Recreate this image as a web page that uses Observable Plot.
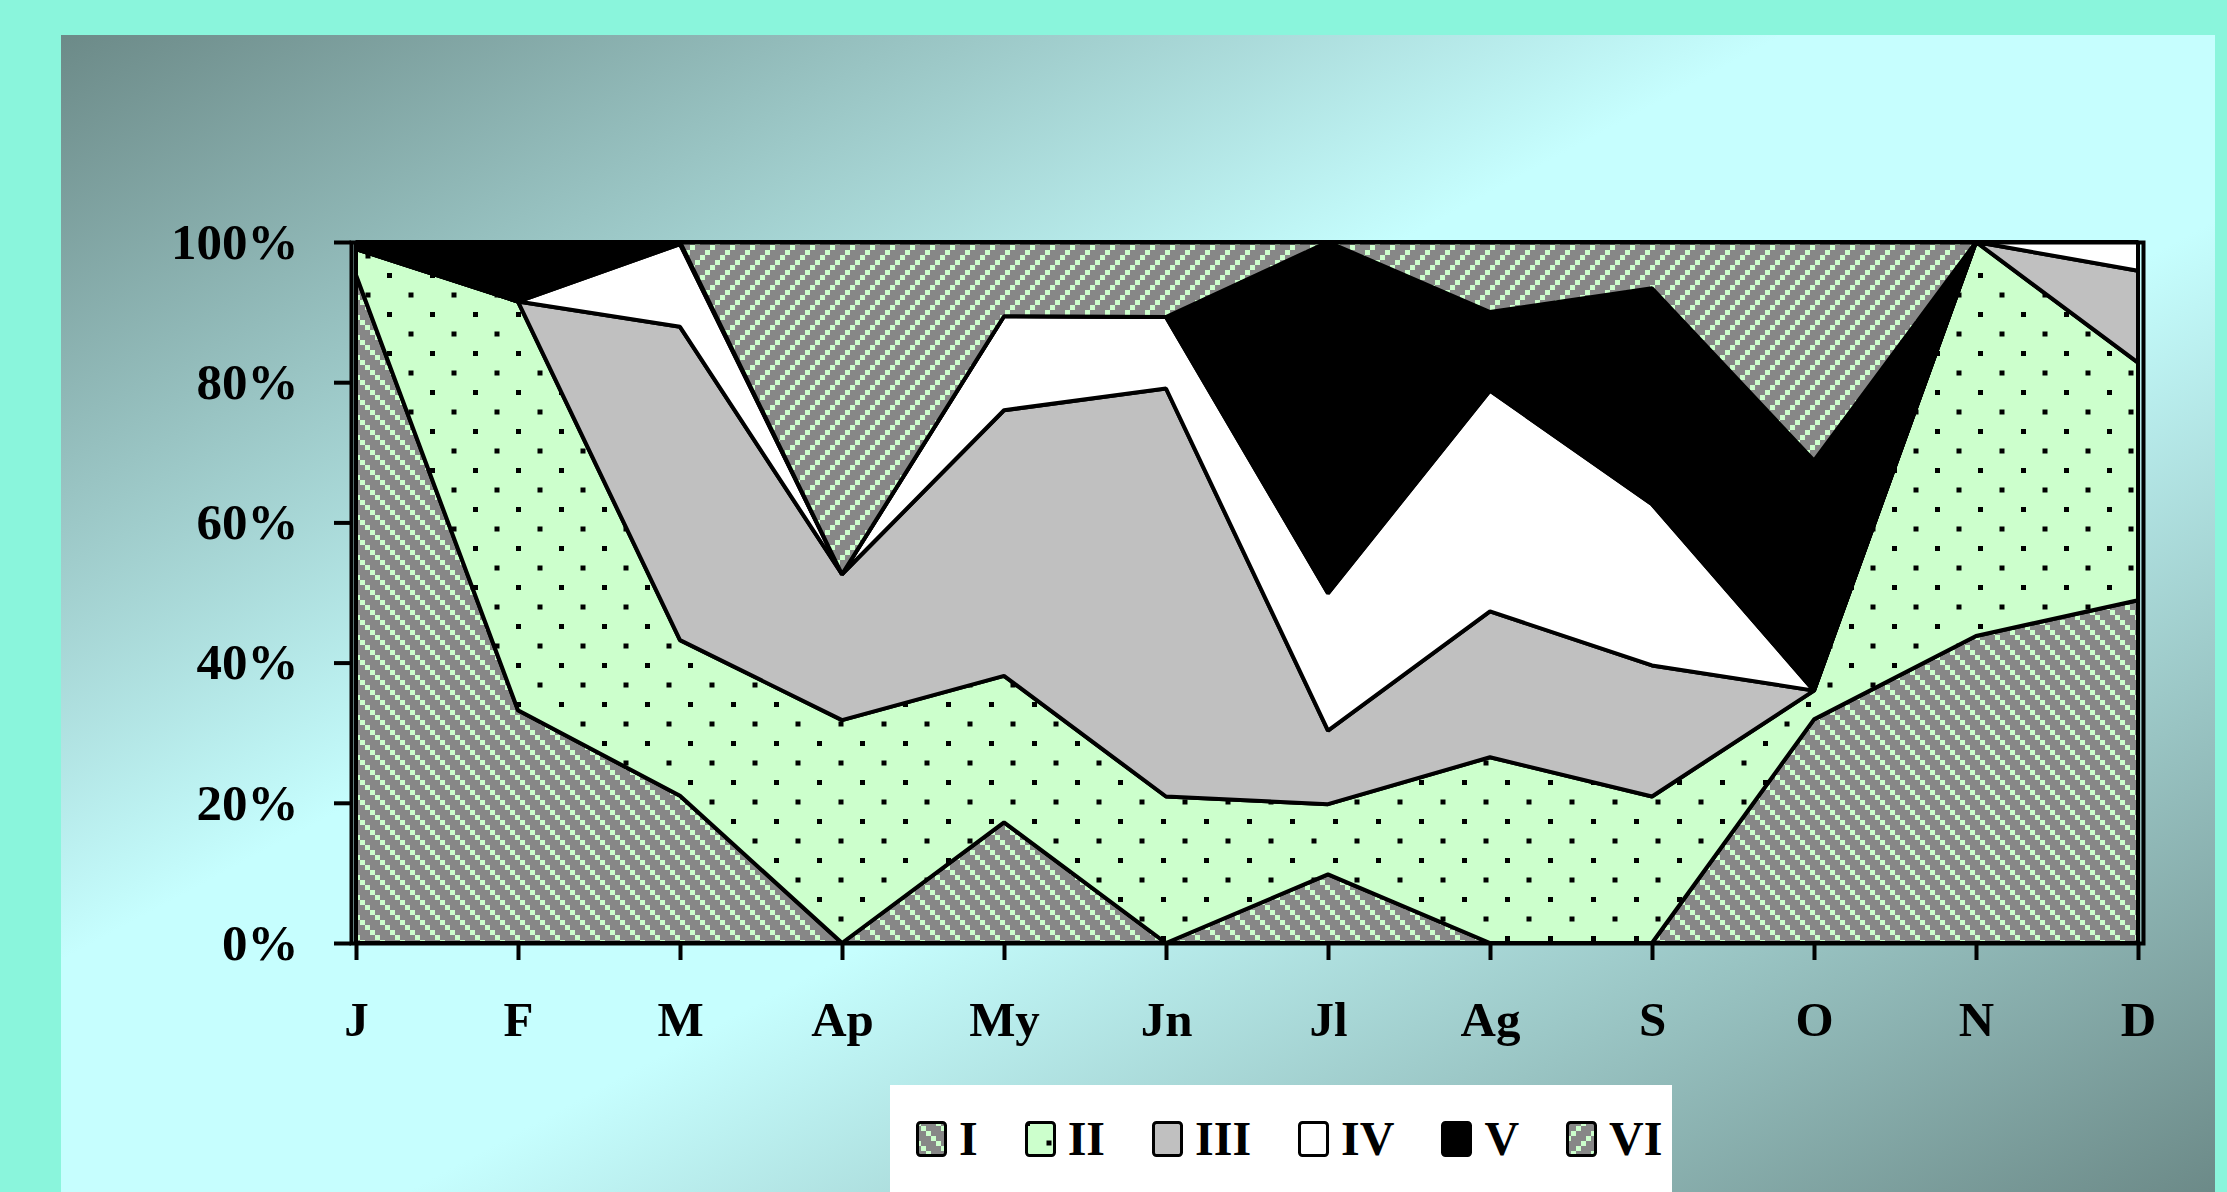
<!DOCTYPE html>
<html>
<head>
<meta charset="utf-8">
<script src="https://cdn.jsdelivr.net/npm/d3@7"></script>
<script src="https://cdn.jsdelivr.net/npm/@observablehq/plot@0.6"></script>
<style>
  html, body { margin: 0; padding: 0; }
  body {
    width: 2227px; height: 1192px; position: relative; overflow: hidden;
    background: #8af5dc;
    font-family: "Liberation Serif", "Times New Roman", serif;
  }
  #panel {
    position: absolute; left: 61px; top: 35px; width: 2154px; height: 1157px;
    background: linear-gradient(to bottom right, #6c8a88 0%, #c6fefe 40%, #c6fefe 58%, #6c8a88 100%);
  }
  #chart { position: absolute; left: 0; top: 0; }
  #legend {
    position: absolute; left: 890px; top: 1085px; width: 782px; height: 107px;
    background: #ffffff; box-sizing: border-box; padding-left: 26px;
    display: flex; align-items: center;
  }
  .item { display: flex; align-items: center; margin-right: 47px; font-weight: bold; font-size: 48px; color: #000; }
  .item svg { margin-right: 12px; display: block; }
  #defs { position: absolute; width: 0; height: 0; }
</style>
</head>
<body>
<svg id="defs" width="0" height="0">
  <defs>
    <pattern id="fillI" patternUnits="userSpaceOnUse" width="20" height="20">
      <rect width="20" height="20" fill="#878787"/>
      <rect x="0" y="0" width="5" height="5" fill="#ccffcc"/>
      <rect x="5" y="5" width="5" height="5" fill="#ccffcc"/>
      <rect x="10" y="10" width="5" height="5" fill="#ccffcc"/>
      <rect x="15" y="15" width="5" height="5" fill="#ccffcc"/>
    </pattern>
    <pattern id="fillII" patternUnits="userSpaceOnUse" width="43" height="39">
      <rect width="43" height="39" fill="#ccffcc"/>
      <rect x="0" y="0" width="5" height="5" fill="#000"/>
      <rect x="21.5" y="19.5" width="5" height="5" fill="#000"/>
    </pattern>
    <pattern id="fillVI" patternUnits="userSpaceOnUse" width="20" height="20">
      <rect width="20" height="20" fill="#878787"/>
      <rect x="15" y="0" width="5" height="5" fill="#ccffcc"/>
      <rect x="10" y="5" width="5" height="5" fill="#ccffcc"/>
      <rect x="5" y="10" width="5" height="5" fill="#ccffcc"/>
      <rect x="0" y="15" width="5" height="5" fill="#ccffcc"/>
    </pattern>
  </defs>
</svg>
<div id="panel"></div>
<div id="chart"></div>
<div id="legend"></div>
<script>
// Months along the x axis
const months = ["J", "F", "M", "Ap", "My", "Jn", "Jl", "Ag", "S", "O", "N", "D"];

// Series, stacked bottom to top
const seriesNames = ["I", "II", "III", "IV", "V", "VI"];

// Monthly share of each series (percent)
const valuesI   = [95.3, 33.2, 21.0,  0.0, 17.2,  0.0,  9.8,  0.0,  0.0, 31.9, 43.8, 48.9];
const valuesII  = [ 3.7, 58.3, 22.2, 31.8, 20.9, 20.9, 10.0, 26.5, 20.9,  4.1, 56.2, 33.9];
const valuesIII = [ 0.0,  0.0, 44.7, 20.8, 37.9, 58.2, 10.5, 20.8, 18.7,  0.0,  0.0, 13.1];
const valuesIV  = [ 0.3,  0.0, 11.8,  0.0, 13.4, 10.2, 19.6, 31.5, 23.0,  0.0,  0.0,  4.1];
const valuesV   = [ 0.7,  8.5,  0.3,  0.0,  0.0,  0.0, 50.1, 11.2, 30.8, 32.8,  0.0,  0.0];
const valuesVI  = [ 0.0,  0.0,  0.0, 47.4, 10.6, 10.7,  0.0, 10.0,  6.6, 31.2,  0.0,  0.0];

// Y axis ticks
const yTicks = [0, 20, 40, 60, 80, 100];

// Fill for each series
const seriesFills = ["url(#fillI)", "url(#fillII)", "#c0c0c0", "#ffffff", "#000000", "url(#fillVI)"];

const seriesValues = [valuesI, valuesII, valuesIII, valuesIV, valuesV, valuesVI];
const table = months.flatMap((m, i) =>
  seriesNames.map((s, j) => ({month: m, series: s, value: seriesValues[j][i]}))
);

const chart = Plot.plot({
  width: 2227,
  height: 1085,
  marginLeft: 351,
  marginRight: 84,
  marginTop: 242,
  marginBottom: 142,
  style: {
    background: "transparent",
    fontFamily: "'Liberation Serif', 'Times New Roman', serif",
    fontWeight: "bold",
    fontSize: "48px",
    color: "#000",
    overflow: "visible"
  },
  x: {type: "point", domain: months, padding: 0},
  y: {domain: [0, 100]},
  color: {domain: seriesNames, range: seriesFills},
  marks: [
    Plot.areaY(table, {
      x: "month", y: "value", fill: "series", order: seriesNames,
      stroke: "#000", strokeWidth: 4, strokeLinejoin: "miter"
    }),
    Plot.frame({stroke: "#000", strokeWidth: 4}),
    Plot.axisY({
      ticks: yTicks, tickFormat: d => d + "%", tickSize: 17, tickPadding: 36,
      strokeWidth: 4, fontSize: 51, label: null
    }),
    Plot.axisX({tickSize: 17, tickPadding: 41, strokeWidth: 4, fontSize: 49, label: null})
  ]
});
document.getElementById("chart").appendChild(chart);

// Legend: swatch + roman numeral for each series
const legend = d3.select("#legend");
seriesNames.forEach((name, i) => {
  const item = legend.append("div").attr("class", "item");
  const sw = item.append("svg").attr("width", 31).attr("height", 36);
  sw.append("rect")
    .attr("x", 1.5).attr("y", 1.5).attr("width", 28).attr("height", 33).attr("rx", 3)
    .attr("fill", seriesFills[i]).attr("stroke", "#000").attr("stroke-width", 3);
  item.append("span").text(name);
});
</script>
</body>
</html>
